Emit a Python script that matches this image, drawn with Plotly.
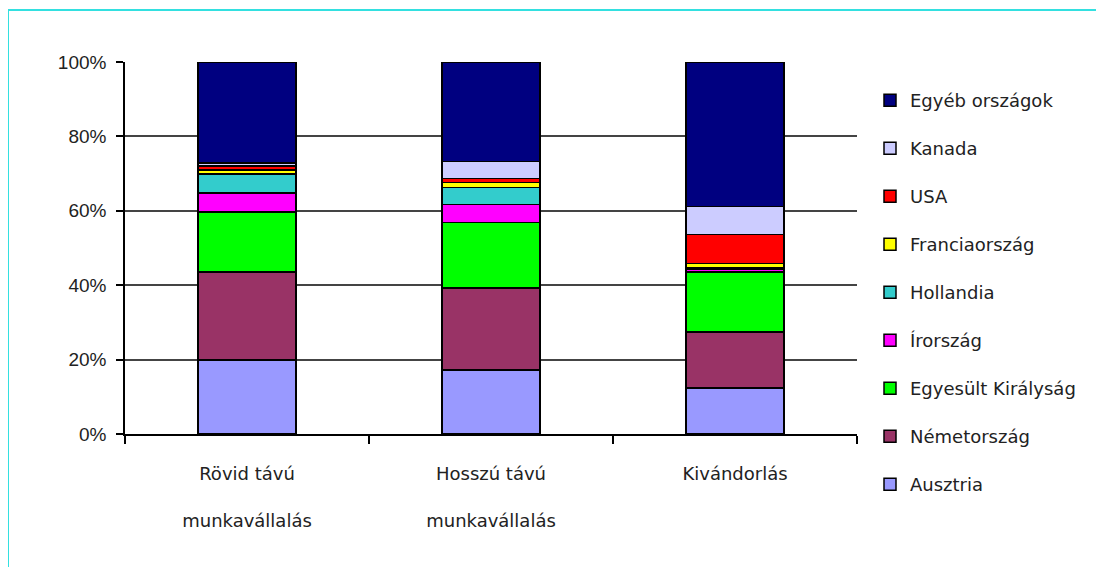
import plotly.graph_objects as go

categories = ["Rövid távú<br><br>munkavállalás", "Hosszú távú<br><br>munkavállalás", "Kivándorlás"]

series_names = ["Ausztria", "Németország", "Egyesült Királyság", "Írország", "Hollandia",
                "Franciaország", "USA", "Kanada", "Egyéb országok"]
series_colors = ["#9999FF", "#993366", "#00FF00", "#FF00FF", "#33CCCC",
                 "#FFFF00", "#FF0000", "#CCCCFF", "#000080"]

ausztria = [19.9, 17.2, 12.4]
nemetorszag = [23.7, 22.0, 15.0]
egyesult_kiralysag = [16.1, 17.7, 16.1]
irorszag = [5.1, 4.8, 0.8]
hollandia = [5.1, 4.6, 0.5]
franciaorszag = [1.1, 1.3, 1.0]
usa = [1.1, 1.1, 7.8]
kanada = [0.8, 4.6, 7.5]
egyeb = [27.1, 26.7, 38.9]

series_values = [ausztria, nemetorszag, egyesult_kiralysag, irorszag, hollandia,
                 franciaorszag, usa, kanada, egyeb]

y_tickvals = [0, 20, 40, 60, 80, 100]
y_ticktext = ["0%", "20%", "40%", "60%", "80%", "100%"]

font_family = "DejaVu Sans"

fig = go.Figure()
n = len(series_names)
for i, (name, color, vals) in enumerate(zip(series_names, series_colors, series_values)):
    fig.add_trace(go.Bar(
        x=categories, y=vals, name=name, legendgroup=name,
        legendrank=100 * (n - i),
        marker=dict(color=color, line=dict(color="#000000", width=1.5)),
    ))

# page offset of 8px (body margin); target plot area in page px: x 125..857, y 62..434
OFF = 8
L, R, T, B = 125 - OFF, 857 - OFF, 62 - OFF, 434 - OFF
W, H = R - L, B - T

fig.update_layout(
    width=1104, height=567,
    barmode="stack", barnorm="percent", bargap=0.6,
    paper_bgcolor="white", plot_bgcolor="white",
    margin=dict(l=L, r=1104 - R, t=T, b=567 - B, pad=0),
    font=dict(family=font_family, size=18, color="#222222"),
    showlegend=True,
    legend=dict(
        x=(870 - OFF - L) / W, y=(B - (82 - OFF)) / H, xanchor="left", yanchor="top",
        font=dict(family=font_family, size=18, color="#222222"),
        traceorder="grouped",
        tracegroupgap=21.6, bgcolor="rgba(0,0,0,0)", itemwidth=30,
        maxheight=540,
    ),
    xaxis=dict(
        showline=True, linecolor="#000000", linewidth=1.5,
        ticks="outside", tickson="boundaries", ticklen=8, tickwidth=1.5, tickcolor="#000000",
        tickfont=dict(family=font_family, size=18, color="#222222"),
        ticklabelstandoff=23, showgrid=False,
    ),
    yaxis=dict(
        range=[0, 100], tickvals=y_tickvals, ticktext=y_ticktext,
        showline=True, linecolor="#000000", linewidth=1.5,
        ticks="outside", ticklen=7, tickwidth=1.5, tickcolor="#000000",
        showgrid=True, gridcolor="#444444", gridwidth=1.5,
        tickfont=dict(family="Liberation Sans", size=19, color="#222222"),
        ticklabelstandoff=6,
        zeroline=False,
    ),
    shapes=[dict(
        type="rect", xref="paper", yref="paper",
        x0=(8 - OFF - L) / W, x1=(1200 - L) / W, y0=(B - 700) / H, y1=(B - (10 - OFF)) / H,
        line=dict(color="#33E0E0", width=2), fillcolor="rgba(0,0,0,0)", layer="below",
    )],
)

fig.write_html("out.html")
